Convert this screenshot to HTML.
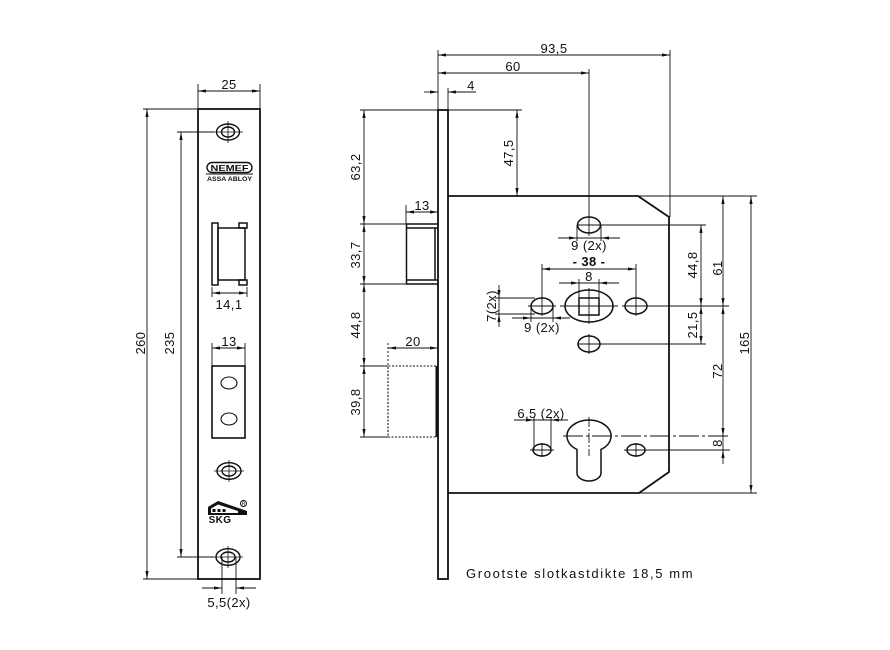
<!DOCTYPE html>
<html><head><meta charset="utf-8"><style>
html,body{margin:0;padding:0;background:#fff;}
svg{display:block;}
text{font-family:"Liberation Sans",sans-serif;font-size:13px;fill:#111;letter-spacing:0.4px;}
</style></head><body>
<svg width="890" height="650" viewBox="0 0 890 650" xmlns="http://www.w3.org/2000/svg">
<defs>
<marker id="a" viewBox="0 0 10 4" refX="10" refY="2" markerWidth="8" markerHeight="3.2" markerUnits="userSpaceOnUse" orient="auto-start-reverse"><path d="M0,0 L10,2 L0,4 z" fill="#111"/></marker>
</defs>
<rect width="890" height="650" fill="#fff"/>
<g stroke="#111" fill="none">
<!-- ===== LEFT VIEW (faceplate) ===== -->
<rect x="198" y="109" width="62" height="470" stroke-width="1.8"/>
<g stroke-width="0.9">
<line x1="198" y1="84" x2="198" y2="109"/><line x1="260" y1="84" x2="260" y2="109"/>
<line x1="198" y1="91" x2="260" y2="91" marker-start="url(#a)" marker-end="url(#a)"/>
<line x1="143" y1="109" x2="198" y2="109"/><line x1="143" y1="579" x2="198" y2="579"/>
<line x1="147" y1="109" x2="147" y2="579" marker-start="url(#a)" marker-end="url(#a)"/>
<line x1="177" y1="132" x2="214" y2="132"/><line x1="177" y1="557" x2="214" y2="557"/>
<line x1="181" y1="132" x2="181" y2="557" marker-start="url(#a)" marker-end="url(#a)"/>
<line x1="212" y1="287" x2="212" y2="297"/><line x1="247" y1="287" x2="247" y2="297"/>
<line x1="212" y1="293" x2="247" y2="293" marker-start="url(#a)" marker-end="url(#a)"/>
<line x1="212" y1="343" x2="212" y2="366"/><line x1="245" y1="343" x2="245" y2="366"/>
<line x1="212" y1="348" x2="245" y2="348" marker-start="url(#a)" marker-end="url(#a)"/>
<line x1="222" y1="557" x2="222" y2="594"/><line x1="236" y1="557" x2="236" y2="594"/>
<line x1="202" y1="588" x2="222" y2="588" marker-end="url(#a)"/>
<line x1="256" y1="588" x2="236" y2="588" marker-end="url(#a)"/>
</g>
<!-- screw holes -->
<g stroke-width="1.4">
<ellipse cx="228" cy="132" rx="11.5" ry="8"/><ellipse cx="228" cy="132" rx="6.5" ry="5"/>
<ellipse cx="229" cy="471" rx="12" ry="8.3"/><ellipse cx="229" cy="471" rx="7" ry="5"/>
<ellipse cx="228" cy="557" rx="12" ry="8.3"/><ellipse cx="228" cy="557" rx="7" ry="5"/>
</g>
<g stroke-width="0.8">
<line x1="213" y1="132" x2="243" y2="132"/><line x1="228" y1="121" x2="228" y2="143"/>
<line x1="214" y1="471" x2="244" y2="471"/><line x1="229" y1="460" x2="229" y2="482"/>
<line x1="213" y1="557" x2="243" y2="557"/><line x1="228" y1="546" x2="228" y2="568"/>
</g>
<!-- NEMEF logo -->
<rect x="207" y="162.5" width="45" height="10" rx="5" stroke-width="1.4"/>
<line x1="206" y1="174" x2="253" y2="174" stroke-width="1"/>
<!-- latch cutout -->
<g stroke-width="1.5">
<rect x="212" y="223" width="6" height="62"/>
<rect x="218" y="228" width="27" height="52"/>
<rect x="239" y="223" width="8" height="5"/>
<rect x="239" y="280" width="8" height="5"/>
</g>
<!-- deadbolt cutout -->
<rect x="212" y="366" width="33" height="72" stroke-width="1.6"/>
<ellipse cx="229" cy="383" rx="8" ry="6" stroke-width="1.1"/>
<ellipse cx="229" cy="419" rx="8" ry="6" stroke-width="1.1"/>
<!-- SKG logo -->
<path d="M208,515 L208,507 L218,501 L247,511 L247,515 Z" fill="#111" stroke="none"/>
<path d="M211,513 L211,508.5 L218,504.5 L238,511 L238,513 Z" fill="#fff" stroke="none"/>
<g fill="#111" stroke="none">
<rect x="212.5" y="509" width="3" height="3"/><rect x="217.5" y="509" width="3" height="3"/><rect x="222.5" y="509" width="3" height="3"/>
</g>
<circle cx="243.5" cy="503.5" r="3" stroke-width="1"/>

<!-- ===== SIDE VIEW ===== -->
<rect x="438" y="110" width="10" height="469" stroke-width="1.8"/>
<path d="M448,196 L638,196 L669,217 L669,472 L639,493 L448,493" stroke-width="1.8"/>
<g stroke-width="0.9">
<line x1="638" y1="196" x2="757" y2="196"/>
<line x1="639" y1="493" x2="757" y2="493"/>
<!-- 93,5 / 60 / 4 -->
<line x1="438" y1="50" x2="438" y2="110"/>
<line x1="670" y1="50" x2="670" y2="217"/>
<line x1="438" y1="55" x2="670" y2="55" marker-start="url(#a)" marker-end="url(#a)"/>
<line x1="589" y1="69" x2="589" y2="236"/>
<line x1="438" y1="73" x2="589" y2="73" marker-start="url(#a)" marker-end="url(#a)"/>
<line x1="448" y1="88" x2="448" y2="110"/>
<line x1="424" y1="92" x2="438" y2="92" marker-end="url(#a)"/>
<line x1="476" y1="92" x2="448" y2="92" marker-end="url(#a)"/>
<!-- 47,5 -->
<line x1="448" y1="110" x2="522" y2="110"/>
<line x1="517" y1="110" x2="517" y2="196" marker-start="url(#a)" marker-end="url(#a)"/>
<!-- left chain -->
<line x1="360" y1="110" x2="438" y2="110"/>
<line x1="360" y1="224" x2="406" y2="224"/>
<line x1="360" y1="284" x2="406" y2="284"/>
<line x1="360" y1="366" x2="388" y2="366"/>
<line x1="360" y1="437" x2="388" y2="437"/>
<line x1="364" y1="110" x2="364" y2="224" marker-start="url(#a)" marker-end="url(#a)"/>
<line x1="364" y1="224" x2="364" y2="284" marker-start="url(#a)" marker-end="url(#a)"/>
<line x1="364" y1="284" x2="364" y2="366" marker-start="url(#a)" marker-end="url(#a)"/>
<line x1="364" y1="366" x2="364" y2="437" marker-start="url(#a)" marker-end="url(#a)"/>
<!-- 13 latch -->
<line x1="406" y1="205" x2="406" y2="224"/>
<line x1="406" y1="212" x2="438" y2="212" marker-start="url(#a)" marker-end="url(#a)"/>
<!-- 20 bolt -->
<line x1="388" y1="343" x2="388" y2="366" stroke-dasharray="2,2"/>
<line x1="388" y1="348" x2="438" y2="348" marker-start="url(#a)" marker-end="url(#a)"/>
</g>
<!-- latch -->
<g stroke-width="1.5">
<path d="M438,224 L406.5,224 L406.5,284 L438,284"/>
<path d="M407,228 L438,228 M407,280 L438,280 M435,228 L435,280"/>
</g>
<!-- deadbolt -->
<path d="M436,366 L388,366 L388,437 L436,437" stroke-width="1.1" stroke-dasharray="2,1.5"/>
<rect x="435.5" y="366" width="2.5" height="71" fill="#111" stroke="none"/>

<!-- holes in body -->
<g stroke-width="1.5">
<ellipse cx="589" cy="225" rx="11.5" ry="8"/>
<ellipse cx="589" cy="306" rx="24" ry="16"/>
<rect x="579" y="298" width="20" height="17"/>
<ellipse cx="542" cy="306" rx="11" ry="8"/>
<ellipse cx="636" cy="306" rx="11" ry="8"/>
<ellipse cx="589" cy="344" rx="11" ry="8"/>
<path d="M577,449.4 A22,16 0 1 1 601,449.4 L601,473 A12,8 0 0 1 577,473 Z"/>
<ellipse cx="542" cy="450" rx="9" ry="6"/>
<ellipse cx="636" cy="450" rx="9" ry="6"/>
</g>
<g stroke-width="0.9">
<line x1="577" y1="225" x2="706" y2="225"/>
<line x1="560" y1="306" x2="618" y2="306"/><line x1="589" y1="288" x2="589" y2="324"/>
<line x1="528" y1="306" x2="556" y2="306"/><line x1="542" y1="296" x2="542" y2="316"/>
<line x1="622" y1="306" x2="729" y2="306"/><line x1="636" y1="296" x2="636" y2="316"/>
<line x1="577" y1="344" x2="706" y2="344"/><line x1="589" y1="334" x2="589" y2="354"/>
<line x1="563" y1="436" x2="730" y2="436" stroke-dasharray="20,3,3,3"/>
<line x1="589" y1="417" x2="589" y2="456" stroke-dasharray="10,2,2,2"/>
<line x1="530" y1="450" x2="554" y2="450"/><line x1="542" y1="443" x2="542" y2="457"/>
<line x1="624" y1="450" x2="730" y2="450"/><line x1="636" y1="443" x2="636" y2="457"/>
<!-- 9(2x) top -->
<line x1="577" y1="225" x2="577" y2="241"/><line x1="601" y1="225" x2="601" y2="241"/>
<line x1="558" y1="238" x2="577" y2="238" marker-end="url(#a)"/>
<line x1="620" y1="238" x2="601" y2="238" marker-end="url(#a)"/>
<line x1="577" y1="238" x2="601" y2="238"/>
<!-- 38 -->
<line x1="542" y1="264" x2="542" y2="298"/><line x1="636" y1="264" x2="636" y2="298"/>
<line x1="542" y1="269" x2="636" y2="269" marker-start="url(#a)" marker-end="url(#a)"/>
<!-- 8 -->
<line x1="579" y1="279" x2="579" y2="298"/><line x1="599" y1="279" x2="599" y2="298"/>
<line x1="559" y1="283" x2="579" y2="283" marker-end="url(#a)"/>
<line x1="619" y1="283" x2="599" y2="283" marker-end="url(#a)"/>
<line x1="579" y1="283" x2="599" y2="283"/>
<!-- 7(2x) -->
<line x1="495" y1="298" x2="535" y2="298"/><line x1="495" y1="314" x2="535" y2="314"/>
<line x1="499" y1="285" x2="499" y2="298" marker-end="url(#a)"/>
<line x1="499" y1="327" x2="499" y2="314" marker-end="url(#a)"/>
<line x1="499" y1="298" x2="499" y2="314"/>
<!-- 9(2x) lower -->
<line x1="531" y1="306" x2="531" y2="322"/><line x1="553" y1="306" x2="553" y2="322"/>
<line x1="512" y1="318" x2="531" y2="318" marker-end="url(#a)"/>
<line x1="570" y1="318" x2="553" y2="318" marker-end="url(#a)"/>
<line x1="531" y1="318" x2="553" y2="318"/>
<!-- 6,5(2x) -->
<line x1="534" y1="417" x2="534" y2="450"/><line x1="551" y1="417" x2="551" y2="450"/>
<line x1="514" y1="420" x2="534" y2="420" marker-end="url(#a)"/>
<line x1="568" y1="420" x2="551" y2="420" marker-end="url(#a)"/>
<line x1="534" y1="420" x2="551" y2="420"/>
<!-- right dims -->
<line x1="701" y1="225" x2="701" y2="306" marker-start="url(#a)" marker-end="url(#a)"/>
<line x1="701" y1="306" x2="701" y2="344" marker-start="url(#a)" marker-end="url(#a)"/>
<line x1="723" y1="196" x2="723" y2="306" marker-start="url(#a)" marker-end="url(#a)"/>
<line x1="723" y1="306" x2="723" y2="436" marker-start="url(#a)" marker-end="url(#a)"/>
<line x1="723" y1="464" x2="723" y2="450" marker-end="url(#a)"/>
<line x1="723" y1="436" x2="723" y2="450"/>
<line x1="751" y1="196" x2="751" y2="493" marker-start="url(#a)" marker-end="url(#a)"/>
</g>
</g>

<!-- ===== TEXT ===== -->
<g text-anchor="middle">
<text x="229" y="89">25</text>
<text x="145" y="343" transform="rotate(-90 145 343)">260</text>
<text x="174" y="343" transform="rotate(-90 174 343)">235</text>
<text x="229.5" y="171" style="font-size:8.5px;font-weight:bold;letter-spacing:0" textLength="38" lengthAdjust="spacingAndGlyphs">NEMEF</text>
<text x="229.5" y="181" style="font-size:6.5px;font-weight:bold;letter-spacing:0" textLength="45" lengthAdjust="spacingAndGlyphs">ASSA ABLOY</text>
<text x="229" y="309">14,1</text>
<text x="229" y="346">13</text>
<text x="220" y="523" style="font-size:10px;font-weight:bold">SKG</text>
<text x="243.5" y="505.5" style="font-size:5px;letter-spacing:0">R</text>
<text x="229" y="607">5,5(2x)</text>

<text x="554" y="53">93,5</text>
<text x="513" y="71">60</text>
<text x="471" y="90">4</text>
<text x="513" y="153" transform="rotate(-90 513 153)">47,5</text>
<text x="360" y="167" transform="rotate(-90 360 167)">63,2</text>
<text x="360" y="255" transform="rotate(-90 360 255)">33,7</text>
<text x="360" y="325" transform="rotate(-90 360 325)">44,8</text>
<text x="360" y="402" transform="rotate(-90 360 402)">39,8</text>
<text x="422" y="210">13</text>
<text x="413" y="346">20</text>
<text x="589" y="250">9 (2x)</text>
<text x="589" y="266" style="font-weight:bold">- 38 -</text>
<text x="589" y="281">8</text>
<text x="496" y="306" transform="rotate(-90 496 306)">7(2x)</text>
<text x="542" y="332">9 (2x)</text>
<text x="541" y="418">6,5 (2x)</text>
<text x="697" y="265" transform="rotate(-90 697 265)">44,8</text>
<text x="697" y="325" transform="rotate(-90 697 325)">21,5</text>
<text x="722" y="268" transform="rotate(-90 722 268)">61</text>
<text x="722" y="371" transform="rotate(-90 722 371)">72</text>
<text x="722" y="443" transform="rotate(-90 722 443)">8</text>
<text x="749" y="343" transform="rotate(-90 749 343)">165</text>
</g>
<text x="466" y="578" textLength="227" lengthAdjust="spacing" style="font-size:13px">Grootste slotkastdikte 18,5 mm</text>
</svg>
</body></html>
